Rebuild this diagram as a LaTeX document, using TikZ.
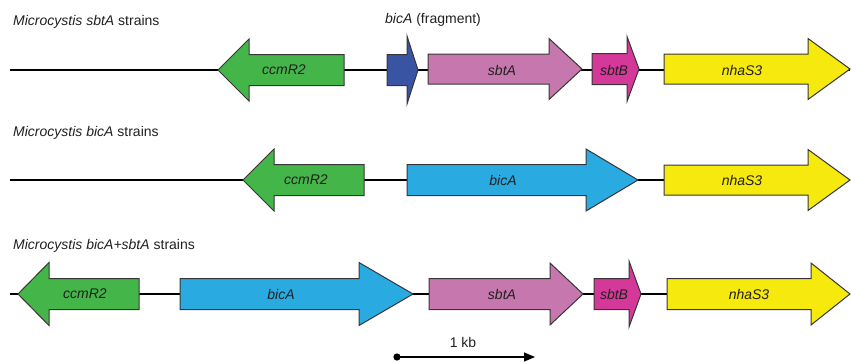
\documentclass[tikz,border=0pt]{standalone}
\usepackage{fontspec}
\setmainfont{Liberation Sans}
\usetikzlibrary{arrows.meta}
\definecolor{ggreen}{HTML}{43B549}
\definecolor{gfrag}{HTML}{3A54A4}
\definecolor{gpink}{HTML}{C678AE}
\definecolor{gmag}{HTML}{D4399A}
\definecolor{gyellow}{HTML}{F5E90E}
\definecolor{gcyan}{HTML}{29ABE2}
\definecolor{ink}{HTML}{231F20}
% #1 far end of body, #2 head base, #3 tip, #4 y, #5 body half-height, #6 head half-height, #7 colour
\newcommand\genearrow[7]{%
  \draw[genebox, fill=#7] (#1,#4-#5) -- (#2,#4-#5) -- (#2,#4-#6) -- (#3,#4)
    -- (#2,#4+#6) -- (#2,#4+#5) -- (#1,#4+#5) -- cycle;}
\begin{document}
\begin{tikzpicture}[x=1pt,y=-1pt,
  genebox/.style={draw=ink!90, line width=1pt, line join=miter},
  backbone/.style={draw=black, line width=1.3pt},
  genelabel/.style={font=\fontsize{14}{16}\selectfont\itshape, text=ink, inner sep=0pt},
  rowtitle/.style={font=\fontsize{14}{16}\selectfont, text=ink, inner sep=0pt, anchor=west}]
\useasboundingbox (0,0) rectangle (851,362);

% ---------- Row 1 ----------
\node[rowtitle] (t1) at (13,22) {\textit{Microcystis sbtA} strains};
\node[rowtitle] (t1b) at (385,20) {\textit{bicA} (fragment)};
\coordinate (r1a) at (10,70);
\coordinate (r1b) at (850,70);
\draw[backbone] (r1a) -- (r1b);
\genearrow{344}{249}{218}{70}{15.5}{31}{ggreen}
\genearrow{387}{407}{418}{70}{15.5}{34}{gfrag}
\genearrow{428}{549}{582}{69}{15}{30.5}{gpink}
\genearrow{592}{627}{639}{69}{15.5}{32.5}{gmag}
\genearrow{664}{808}{850}{69}{15}{30.5}{gyellow}
\node[genelabel] (r1c) at (284,70) {ccmR2};
\node[genelabel] (r1s) at (502,70) {sbtA};
\node[genelabel] (r1t) at (614,70) {sbtB};
\node[genelabel] (r1n) at (742,70) {nhaS3};

% ---------- Row 2 ----------
\node[rowtitle] (t2) at (13,133) {\textit{Microcystis bicA} strains};
\coordinate (r2a) at (10,180);
\coordinate (r2b) at (850,180);
\draw[backbone] (r2a) -- (r2b);
\genearrow{364}{274}{243}{180}{15.5}{31}{ggreen}
\genearrow{407}{586}{638}{180}{15.5}{31}{gcyan}
\genearrow{664}{808}{850}{180}{15}{30.5}{gyellow}
\node[genelabel] (r2c) at (306,180) {ccmR2};
\node[genelabel] (r2i) at (503,180) {bicA};
\node[genelabel] (r2n) at (742,180) {nhaS3};

% ---------- Row 3 ----------
\node[rowtitle] (t3) at (13,246) {\textit{Microcystis bicA+sbtA} strains};
\coordinate (r3a) at (10,294);
\coordinate (r3b) at (850,294);
\draw[backbone] (r3a) -- (r3b);
\genearrow{139}{49}{18}{294}{15.5}{31.5}{ggreen}
\genearrow{180}{359}{413}{294}{15.5}{31.5}{gcyan}
\genearrow{429}{550}{583}{294}{15.5}{31}{gpink}
\genearrow{594}{629}{641}{294}{15.5}{33}{gmag}
\genearrow{667}{811}{850}{294}{15.5}{31}{gyellow}
\node[genelabel] (r3c) at (85,294) {ccmR2};
\node[genelabel] (r3i) at (281,294) {bicA};
\node[genelabel] (r3s) at (502,294) {sbtA};
\node[genelabel] (r3t) at (614,294) {sbtB};
\node[genelabel] (r3n) at (749,294) {nhaS3};

% ---------- Scale bar ----------
\coordinate (sa) at (397,357);
\coordinate (sb) at (535,357);
\fill[black] (sa) circle (3.6);
\draw[black, line width=1.1pt, -{Triangle[length=11pt,width=9pt]}] (sa) -- (sb);
\node[font=\fontsize{14}{16}\selectfont, text=ink, inner sep=0pt] (kb) at (463,342) {1 kb};
\end{tikzpicture}
\end{document}
